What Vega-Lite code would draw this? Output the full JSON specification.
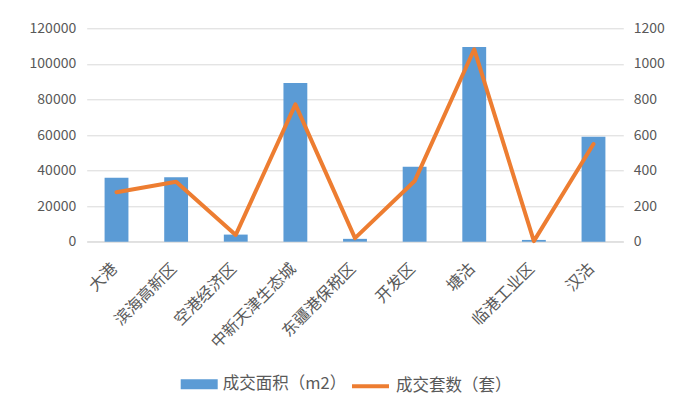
{
  "$schema": "https://vega.github.io/schema/vega-lite/v6.json",
  "autosize": {"type": "none"},
  "padding": {"left": 86.7, "top": 28.3, "right": 68.7, "bottom": 174.3},
  "width": 536.6,
  "height": 213.4,
  "background": "white",
  "data": {
    "values": [
      {"区域": "大港", "面积": 36000, "套数": 278},
      {"区域": "滨海高新区", "面积": 36200, "套数": 337},
      {"区域": "空港经济区", "面积": 4000, "套数": 38},
      {"区域": "中新天津生态城", "面积": 89200, "套数": 772},
      {"区域": "东疆港保税区", "面积": 1600, "套数": 20},
      {"区域": "开发区", "面积": 42200, "套数": 341},
      {"区域": "塘沽", "面积": 109500, "套数": 1082},
      {"区域": "临港工业区", "面积": 1000, "套数": 3},
      {"区域": "汉沽", "面积": 59000, "套数": 549}
    ]
  },
  "encoding": {
    "x": {
      "field": "区域",
      "type": "nominal",
      "sort": null,
      "title": null,
      "scale": {"paddingInner": 0.6, "paddingOuter": 0.3},
      "axis": {
        "labelAngle": -45,
        "labelAlign": "right",
        "labelBaseline": "middle",
        "labelFontSize": 16,
        "labelPadding": 24,
        "labelOffset": -2,
        "ticks": false,
        "domainColor": "#d9d9d9",
        "domainWidth": 1
      }
    }
  },
  "layer": [
    {
      "mark": {"type": "bar", "color": "#5B9BD5"},
      "encoding": {
        "y": {
          "field": "面积",
          "type": "quantitative",
          "title": null,
          "scale": {"domain": [0, 120000], "nice": false},
          "axis": {
            "values": [0, 20000, 40000, 60000, 80000, 100000, 120000],
            "format": "d",
            "domain": false,
            "ticks": false,
            "labelPadding": 11,
            "gridColor": "#d9d9d9"
          }
        },
        "fill": {
          "datum": "成交面积（m2）",
          "scale": {"range": ["#5B9BD5"]},
          "legend": {
            "title": null,
            "orient": "none",
            "legendX": 94,
            "legendY": 337.5,
            "padding": 0,
            "symbolType": "M-1,-0.27H1V0.27H-1Z",
            "symbolSize": 1369,
            "symbolStrokeWidth": 0,
            "labelOffset": 5,
            "labelFontSize": 16.5
          }
        }
      }
    },
    {
      "mark": {"type": "line", "strokeWidth": 4, "strokeCap": "round", "strokeJoin": "round"},
      "encoding": {
        "y": {
          "field": "套数",
          "type": "quantitative",
          "title": null,
          "scale": {"domain": [0, 1200], "nice": false},
          "axis": {
            "orient": "right",
            "values": [0, 200, 400, 600, 800, 1000, 1200],
            "format": "d",
            "domain": false,
            "ticks": false,
            "grid": false,
            "labelPadding": 10
          }
        },
        "stroke": {
          "datum": "成交套数（套）",
          "scale": {"range": ["#ED7D31"]},
          "legend": {
            "title": null,
            "orient": "none",
            "legendX": 263.3,
            "legendY": 337.5,
            "padding": 0,
            "symbolType": "stroke",
            "symbolSize": 1369,
            "symbolStrokeWidth": 4,
            "labelOffset": 5,
            "labelFontSize": 16.5
          }
        }
      }
    }
  ],
  "resolve": {"scale": {"y": "independent"}},
  "config": {
    "font": "Noto Sans CJK SC",
    "view": {"stroke": null},
    "axis": {
      "labelFont": "Noto Sans CJK SC",
      "labelFontSize": 14,
      "labelColor": "#595959"
    },
    "legend": {
      "labelFont": "Noto Sans CJK SC",
      "labelColor": "#595959"
    }
  }
}
